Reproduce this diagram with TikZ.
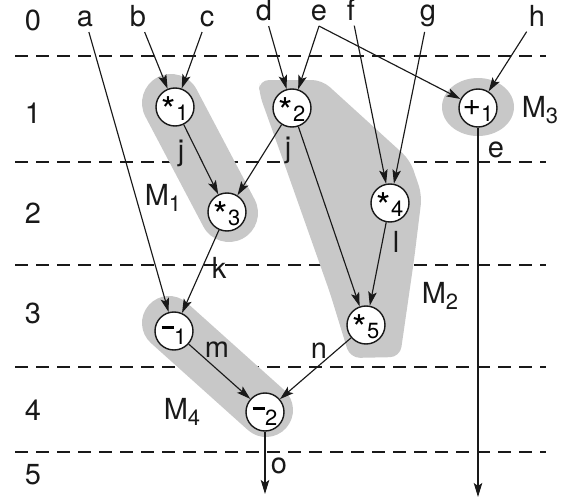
\documentclass[tikz,border=0pt]{standalone}
\usepackage{fontspec}
\setmainfont{TeX Gyre Heros}
\usetikzlibrary{arrows.meta, positioning}
\definecolor{blobgray}{RGB}{200,200,200}
\definecolor{inkblack}{RGB}{25,25,25}
% operator sign (raised by #1) followed by its lowered index
\newcommand{\opsym}[3]{\raisebox{#1}[0pt][0pt]{#2}\raisebox{-7.8pt}[0pt][0pt]{\fontsize{12.5}{12.5}\selectfont #3}}
\newcommand{\grp}[1]{M\raisebox{-0.2em}{\fontsize{12.5}{12.5}\selectfont #1}}
\newcommand{\bigstar}{{\fontsize{21}{21}\selectfont *}}
\newcommand{\bigplus}{{\fontsize{18}{18}\selectfont +}}
\newcommand{\minusbar}{\rule{7pt}{1.9pt}}
\tikzset{
  op/.style      = {circle, draw=inkblack, line width=0.8pt, fill=white, minimum size=7.6mm, inner sep=0pt, font=\fontsize{15}{15}\selectfont},
  lbl/.style     = {inner sep=1pt, font=\fontsize{16.5}{19}\selectfont, text=inkblack},
  inp/.style     = {inner sep=3pt, anchor=base, font=\fontsize{16.5}{19}\selectfont, text=inkblack},
  flow/.style    = {-{Stealth[length=2.8mm, width=1.7mm, inset=0.6mm]}, line width=0.65pt, inkblack},
  levelline/.style = {dash pattern=on 2.6mm off 1.6mm, line width=0.65pt, inkblack},
  blob/.style    = {blobgray, line cap=round},
}
\begin{document}
\begin{tikzpicture}[x=0.2mm, y=-0.2mm]
\useasboundingbox (0,0) rectangle (562,500);

% ===================== levels =====================
\foreach \y in {56,162,265,367,452}{
    \draw[levelline] (15,\y) -- (546,\y);
}
\foreach \n/\y in {0/20,1/113,2/213,3/313,4/410,5/475}{
    \node[lbl] (row\n) at (33,\y) {\n};
}

% ===================== modules (gray) =====================
\draw[blob, line width=11.6mm] (171,103) -- (229,213);
\fill[blobgray, rounded corners=2mm] (259,80) -- (322,80) -- (410,160) -- (422,195)
    -- (414,260) -- (400,357) -- (350,358) -- (330,293) -- (283,160) -- (259,93) -- cycle;
\fill[blobgray] (478,107) ellipse [x radius=36, y radius=29];
\draw[blob, line width=10.8mm] (169,323) -- (266,410);

% ===================== inputs =====================
\foreach \v/\x/\y in {a/85/26, b/138/26, c/207/26, d/264/20, e/319/20, f/351/20, g/428/20, h/537/26}{
    \node[inp] (in\v) at (\x,\y) {\v};
}

% ===================== operations =====================
\node[op] (mul1) at (175,107) {\opsym{-9.6pt}{\bigstar}{1}};
\node[op] (mul2) at (292,108) {\opsym{-9.6pt}{\bigstar}{2}};
\node[op] (add1) at (478,108) {\opsym{-4.5pt}{\bigplus}{1}};
\node[op] (mul3) at (227,212) {\opsym{-9.6pt}{\bigstar}{3}};
\node[op] (mul4) at (390,203) {\opsym{-9.6pt}{\bigstar}{4}};
\node[op] (mul5) at (366,325) {\opsym{-9.6pt}{\bigstar}{5}};
\node[op] (sub1) at (174,331) {\opsym{1.2pt}{\minusbar}{1}};
\node[op] (sub2) at (265,412) {\opsym{1.2pt}{\minusbar}{2}};

\coordinate (out1) at (478,497);
\coordinate (out2) at (265,494);

% ===================== connectors =====================
\draw[flow] (ina) -- (sub1);
\draw[flow] (inb) -- (mul1);
\draw[flow] (inc) -- (mul1);
\draw[flow] (ind) -- (mul2);
\draw[flow] (ine.south) -- (mul2);
\draw[flow] (ine.south) -- (add1);
\draw[flow] (inf) -- (mul4);
\draw[flow] (ing) -- (mul4);
\draw[flow] (inh) -- (add1);

\draw[flow] (mul1) -- (mul3);
\draw[flow] (mul2) -- (mul3);
\draw[flow] (mul2) -- (mul5);
\draw[flow] (mul4) -- (mul5);
\draw[flow] (mul3) -- (sub1);
\draw[flow] (sub1) -- (sub2);
\draw[flow] (mul5) -- (sub2);
\draw[flow] (add1) -- (out1);
\draw[flow] (sub2) -- (out2);

% ===================== value labels =====================
\node[lbl] (lj1) at (181,153) {j};
\node[lbl] (lj2) at (288,150) {j};
\node[lbl] (lk)  at (219,268) {k};
\node[lbl] (ll)  at (396,242) {l};
\node[lbl] (le)  at (496,150) {e};
\node[lbl] (lm)  at (217,350) {m};
\node[lbl] (ln)  at (319,351) {n};
\node[lbl] (lo)  at (279,466) {o};

% ===================== module names =====================
\node[lbl] (M1) at (163,198) {\grp{1}};
\node[lbl] (M2) at (440,296) {\grp{2}};
\node[lbl] (M3) at (540,110) {\grp{3}};
\node[lbl] (M4) at (182,412) {\grp{4}};

\end{tikzpicture}
\end{document}
